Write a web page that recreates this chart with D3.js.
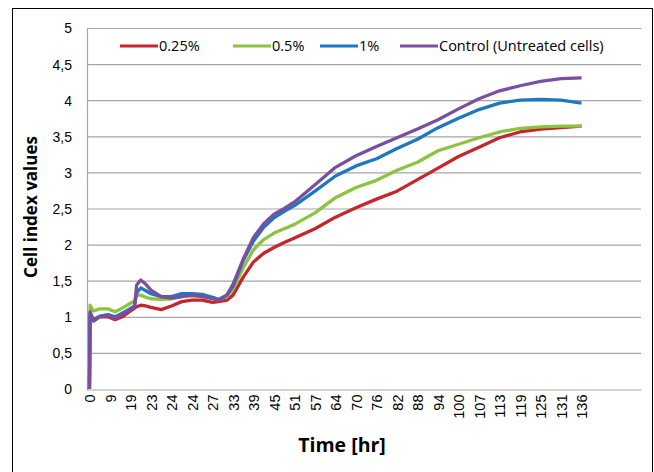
<!DOCTYPE html>
<html>
<head>
<meta charset="utf-8">
<script src="https://cdn.jsdelivr.net/npm/d3@7"></script>
<style>
  body { margin: 0; background: #fff; }
  svg { font-family: "Open Sans", "Noto Sans", sans-serif; }
</style>
</head>
<body>
<svg id="chart" width="654" height="472"></svg>
<script>
const xLabels = ["0","9","19","23","24","24","27","33","39","45","51","57","64","70","76","82","88","94","100","107","113","119","125","131","136"];
const yTicks = [0, 0.5, 1, 1.5, 2, 2.5, 3, 3.5, 4, 4.5, 5];

// sample positions, in x-label slots
const positions = [0, 0.03, 0.2, 0.5, 0.9, 1.25, 1.6, 1.9, 2.2, 2.3, 2.5, 2.75, 3, 3.5, 4, 4.5, 5, 5.5, 6, 6.3, 6.7,
  7, 7.5, 8, 8.5, 9, 9.5, 10, 11, 12, 13, 14, 15, 16, 17, 18, 19, 20, 21, 22, 23, 24];

const red = [0, 1.0, 0.96, 1.0, 1.0, 0.96, 1.0, 1.06, 1.12, 1.14, 1.16, 1.15, 1.13, 1.10, 1.15, 1.21, 1.23, 1.23, 1.20, 1.21, 1.23,
  1.30, 1.55, 1.76, 1.88, 1.96, 2.03, 2.09, 2.22, 2.38, 2.51, 2.63, 2.74, 2.90, 3.06, 3.22, 3.35, 3.48, 3.56, 3.60, 3.62, 3.64];
const green = [0, 1.16, 1.08, 1.11, 1.11, 1.07, 1.12, 1.17, 1.22, 1.30, 1.30, 1.27, 1.25, 1.24, 1.25, 1.28, 1.29, 1.28, 1.27, 1.24, 1.28,
  1.38, 1.68, 1.93, 2.07, 2.16, 2.22, 2.28, 2.44, 2.65, 2.79, 2.89, 3.03, 3.14, 3.30, 3.39, 3.48, 3.56, 3.61, 3.63, 3.64, 3.64];
const blue = [0, 1.05, 0.96, 1.01, 1.03, 1.0, 1.05, 1.10, 1.15, 1.33, 1.40, 1.36, 1.32, 1.28, 1.28, 1.32, 1.32, 1.31, 1.27, 1.24, 1.30,
  1.42, 1.78, 2.05, 2.24, 2.37, 2.46, 2.54, 2.74, 2.95, 3.09, 3.19, 3.33, 3.46, 3.62, 3.75, 3.87, 3.96, 4.00, 4.01, 4.00, 3.96];
const control = [0, 1.07, 0.94, 1.0, 1.02, 0.98, 1.03, 1.08, 1.14, 1.44, 1.51, 1.45, 1.37, 1.28, 1.26, 1.28, 1.30, 1.28, 1.25, 1.23, 1.30,
  1.45, 1.80, 2.10, 2.29, 2.42, 2.50, 2.59, 2.83, 3.07, 3.23, 3.36, 3.48, 3.60, 3.73, 3.88, 4.02, 4.13, 4.20, 4.26, 4.30, 4.31];

const seriesNames = ["0.25%", "0.5%", "1%", "Control (Untreated cells)"];
const seriesColors = ["#c4262e", "#8cc43f", "#1f77c0", "#7a4f9f"];
const seriesValues = [red, green, blue, control];

const svg = d3.select("#chart");
const margin = {left: 87, right: 13, top: 28, bottom: 83};
const width = 654, height = 472;

svg.append("rect")
  .attr("x", 12.5).attr("y", 8.5)
  .attr("width", 640).attr("height", 480)
  .attr("fill", "none").attr("stroke", "#000");

const x = d3.scaleLinear().domain([-0.12, 26.9]).range([margin.left, width - margin.right]);
const y = d3.scaleLinear().domain([0, 5]).range([height - margin.bottom, margin.top]);

// grid
svg.append("g")
  .selectAll("line")
  .data(yTicks.filter(d => d > 0))
  .enter().append("line")
  .attr("x1", x.range()[0]).attr("x2", x.range()[1])
  .attr("y1", d => y(d) + 0.5).attr("y2", d => y(d) + 0.5)
  .attr("stroke", "#a6a6a6").attr("stroke-width", 1.2);

// y axis
const yAxis = svg.append("g")
  .attr("transform", `translate(${margin.left}, 0.5)`)
  .call(d3.axisLeft(y).tickValues(yTicks).tickSize(0).tickPadding(15)
    .tickFormat(d => String(d).replace(".", ",")));
yAxis.select(".domain").attr("stroke", "#a6a6a6").attr("stroke-width", 1.2);
yAxis.selectAll("text").attr("font-size", 14).attr("fill", "#000");

// x axis
const xAxis = svg.append("g")
  .attr("transform", `translate(0, ${y(0) + 0.5})`)
  .call(d3.axisBottom(x).tickValues(d3.range(xLabels.length)).tickSize(0)
    .tickFormat(i => xLabels[i]));
xAxis.select(".domain").attr("stroke", "#a6a6a6").attr("stroke-width", 1.2);
xAxis.selectAll("text")
  .attr("font-size", 14.5).attr("fill", "#000")
  .attr("text-anchor", "end")
  .attr("transform", "rotate(-90)")
  .attr("x", -5).attr("y", 0).attr("dy", "0.35em");

// lines
const line = d3.line()
  .x((d, i) => x(positions[i]))
  .y(d => y(d));

svg.append("g")
  .selectAll("path")
  .data(seriesValues)
  .enter().append("path")
  .attr("d", line)
  .attr("fill", "none")
  .attr("stroke", (d, i) => seriesColors[i])
  .attr("stroke-width", 3.3)
  .attr("stroke-linejoin", "round");

// legend
const legendX = [120, 233, 320, 400];
const legend = svg.append("g")
  .selectAll("g")
  .data(seriesNames)
  .enter().append("g")
  .attr("transform", (d, i) => `translate(${legendX[i]}, 46)`);
legend.append("line")
  .attr("x1", 0).attr("x2", 38)
  .attr("stroke", (d, i) => seriesColors[i])
  .attr("stroke-width", 3);
legend.append("text")
  .attr("x", 39).attr("dy", "0.35em")
  .attr("font-size", 14.5)
  .text(d => d);

// titles
svg.append("text")
  .attr("transform", "translate(37, 207) rotate(-90)")
  .attr("text-anchor", "middle")
  .attr("font-size", 17).attr("font-weight", "bold")
  .text("Cell index values");

svg.append("text")
  .attr("x", 342).attr("y", 452)
  .attr("text-anchor", "middle")
  .attr("font-size", 19.5).attr("font-weight", "bold")
  .text("Time [hr]");
</script>
</body>
</html>
